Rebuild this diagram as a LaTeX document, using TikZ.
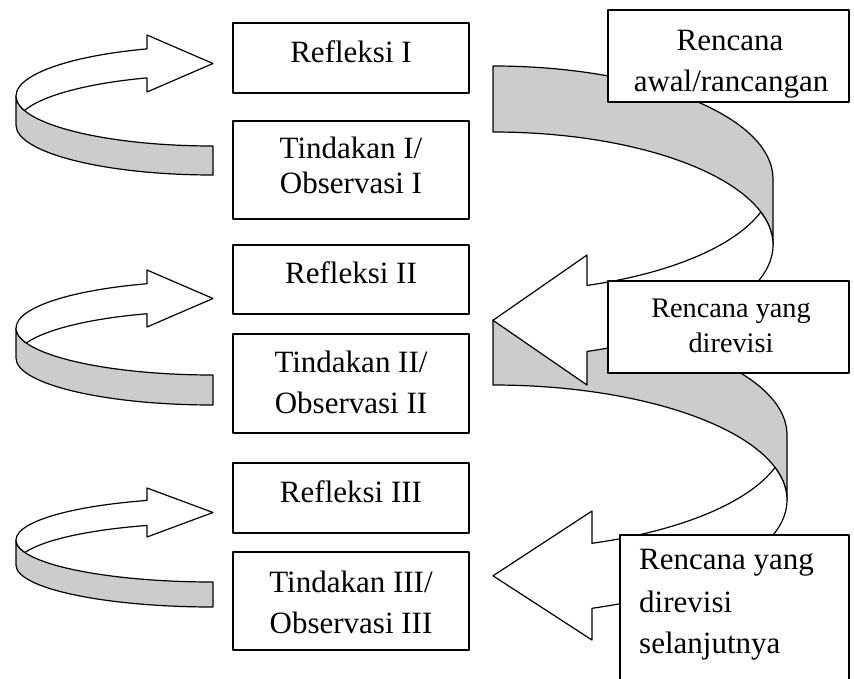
\documentclass[tikz,border=0pt]{standalone}
\usepackage{fontspec}
\setmainfont{Liberation Serif}
\definecolor{ribbon}{RGB}{204,204,204}
% small loop arrow on the left: #1 centre y of upper ellipse, #2 ribbon height, #3 y radius,
% #4 head top, #5 head bottom, #6 tip y
\newcommand\smallloop[6]{%
  \pgfmathsetmacro\myJ{asin(#2/(2*#3))}%
  \pgfmathsetmacro\myH{360-acos(-66/197)}%
  \draw[band] (16,#1) arc[start angle=180,end angle=90,x radius=197,y radius=#3]
     -- ++(0,#2) arc[start angle=90,end angle=180,x radius=197,y radius=#3] -- cycle;
  \draw[front] ({213+197*cos(180-\myJ)},{#1+#3*sin(180-\myJ)})
     arc[start angle={180-\myJ},end angle=\myH,x radius=197,y radius=#3]
     -- (147,#4) -- (213,#6) -- (147,#5) -- (147,{#1+#2+#3*sin(\myH)})
     arc[start angle=\myH,end angle={180+\myJ},x radius=197,y radius=#3] -- cycle;
}
% big loop arrow on the right: #1 x radius, #2 centre y of upper ellipse, #3 ribbon height,
% #4 y radius, #5 head base x, #6 head top, #7 head bottom, #8 tip y
\newcommand\bigloop[8]{%
  \pgfmathsetmacro\myJ{asin(#3/(2*#4))}%
  \pgfmathsetmacro\myH{acos((#5-493)/#1)}%
  \draw[band] (493,{#2-#4}) arc[start angle=270,end angle=360,x radius=#1,y radius=#4]
     -- ++(0,#3) arc[start angle=0,end angle=-90,x radius=#1,y radius=#4] -- cycle;
  \draw[front] ({493+#1*cos(\myJ)},{#2+#4*sin(\myJ)})
     arc[start angle=\myJ,end angle=\myH,x radius=#1,y radius=#4]
     -- (#5,#6) -- (493,#8) -- (#5,#7) -- (#5,{#2+#3+#4*sin(\myH)})
     arc[start angle=\myH,end angle={-\myJ},x radius=#1,y radius=#4] -- cycle;
}
\begin{document}
\begin{tikzpicture}[x=1pt,y=-1pt,line join=round,
  box/.style={draw=black,line width=1.2pt,fill=white,rectangle,inner sep=0pt},
  lbl/.style={anchor=base,inner sep=0pt,font=\fontsize{31}{37}\selectfont},
  lbls/.style={anchor=base,inner sep=0pt,font=\fontsize{28.3}{34}\selectfont},
  band/.style={draw=black,line width=1.2pt,fill=ribbon},
  front/.style={draw=black,line width=1.2pt,fill=white}]
\clip (0,0) rectangle (854,678);
\fill[white] (0,0) rectangle (854,678);

% left loop arrows
\smallloop{96}{29}{50}{35}{92}{63.5}
\smallloop{328}{30}{47}{270}{327}{298.5}
\smallloop{540}{25}{42}{488}{537}{512.5}

% right loop arrows
\bigloop{294}{435}{65}{115}{592}{511}{640}{575.8}
\bigloop{280}{179}{66}{113}{587}{255}{385}{320.3}

% left boxes
\node[box,minimum width=236pt,minimum height=70pt] (r1) at (351,58) {};
\node[box,minimum width=236pt,minimum height=98pt] (t1) at (351,170) {};
\node[box,minimum width=236pt,minimum height=69pt] (r2) at (351,279.5) {};
\node[box,minimum width=236pt,minimum height=99pt] (t2) at (351,383.5) {};
\node[box,minimum width=236pt,minimum height=70pt] (r3) at (351,498) {};
\node[box,minimum width=236pt,minimum height=98pt] (t3) at (351,601) {};

\node[lbl] (r1a) at (351,62) {Refleksi I};
\node[lbl] (t1a) at (351,158) {Tindakan I/};
\node[lbl] (t1b) at (351,193) {Observasi I};
\node[lbl] (r2a) at (351,283) {Refleksi II};
\node[lbl] (t2a) at (351,372) {Tindakan II/};
\node[lbl] (t2b) at (351,413) {Observasi II};
\node[lbl] (r3a) at (351,502) {Refleksi III};
\node[lbl] (t3a) at (351,592) {Tindakan III/};
\node[lbl] (t3b) at (351,633) {Observasi III};

% right boxes
\node[box,minimum width=241pt,minimum height=92pt] (p1) at (728.5,56) {};
\node[box,minimum width=241pt,minimum height=92pt] (p2) at (728.5,327) {};
\node[box,minimum width=229pt,minimum height=165pt] (p3) at (734.5,617.5) {};

\node[lbl] (p1a) at (730,50) {Rencana};
\node[lbl] (p1b) at (731,91) {awal/rancangan};
\node[lbls] (p2a) at (731,317) {Rencana yang};
\node[lbls] (p2b) at (731,352) {direvisi};
\node[lbl,anchor=base west] (p3a) at (639,569) {Rencana yang};
\node[lbl,anchor=base west] (p3b) at (639,612) {direvisi};
\node[lbl,anchor=base west] (p3c) at (639,653) {selanjutnya};
\end{tikzpicture}
\end{document}
